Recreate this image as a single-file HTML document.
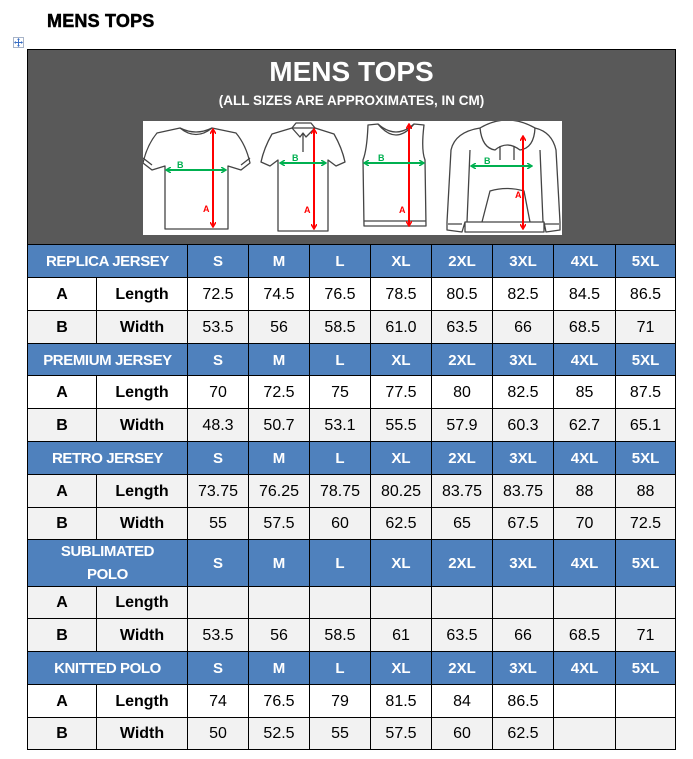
<!DOCTYPE html>
<html><head><meta charset="utf-8">
<style>
body{margin:0;width:693px;height:759px;background:#fff;position:relative;overflow:hidden;font-family:"Liberation Sans",sans-serif;}
.title{position:absolute;left:47px;top:12px;font-size:18px;font-weight:bold;color:#000;line-height:18px;letter-spacing:0.2px;-webkit-text-stroke:0.5px #000;}
.mv{position:absolute;left:13px;top:37px;width:9px;height:9px;border:1px solid #a8b4c8;background:#fff;}
.hdr{position:absolute;left:27px;top:49px;width:649px;height:195px;box-sizing:border-box;background:#595959;border:1px solid #000;border-bottom:none;}
.t1{position:absolute;left:0;width:100%;text-align:center;color:#fff;font-weight:bold;}
.r{position:absolute;left:27px;width:649px;display:flex;box-sizing:border-box;border-top:1px solid #000;}
.r>div{box-sizing:border-box;border-left:1px solid #000;display:flex;align-items:center;justify-content:center;font-size:16px;color:#000;padding-top:1px;width:61px;flex:none;text-align:center;}
.r>div:last-child{border-right:1px solid #000;}
.r>div.x{width:62px;}
.r>div.l{width:160px;}
.r>div.a{width:69px;font-weight:bold;}
.r>div.n{width:91px;font-weight:bold;}
.h{background:#4F81BD;}
.h>div{color:#fff !important;font-weight:bold;font-size:15px !important;}
.h>div.l{letter-spacing:-0.4px;}
.g{background:#F2F2F2;}
.w{background:#fff;}
.last{border-bottom:1px solid #000;}
</style></head>
<body>
<div class="title">MENS TOPS</div>
<div class="mv"><svg width="9" height="9" viewBox="0 0 9 9" style="position:absolute;left:0;top:0"><path d="M4.5 0.5V8.5M0.5 4.5H8.5" stroke="#3a6fc4" stroke-width="1"/><path d="M4.5 0L3 1.8H6Z M4.5 9L3 7.2H6Z M0 4.5L1.8 3V6Z M9 4.5L7.2 3V6Z" fill="#3a6fc4"/></svg></div>

<div class="hdr">
  <div class="t1" style="top:5px;font-size:28px;line-height:34px;">MENS TOPS</div>
  <div class="t1" style="top:43px;font-size:13.5px;line-height:16px;">(ALL SIZES ARE APPROXIMATES, IN CM)</div>
</div>

<svg style="position:absolute;left:143px;top:121px" width="419" height="114" viewBox="143 121 419 114">
<defs>
<marker id="ar" markerWidth="6" markerHeight="6" refX="5" refY="3" orient="auto-start-reverse" markerUnits="userSpaceOnUse"><path d="M0,0 L5,3 L0,6" fill="none" stroke="#ff0000" stroke-width="1.5"/></marker>
<marker id="ag" markerWidth="6" markerHeight="6" refX="5" refY="3" orient="auto-start-reverse" markerUnits="userSpaceOnUse"><path d="M0,0 L5,3 L0,6" fill="none" stroke="#00b050" stroke-width="1.5"/></marker>
</defs>
<rect x="143" y="121" width="419" height="114" fill="#fff"/>
<g fill="none" stroke="#444" stroke-width="1.3" stroke-linejoin="round">
<!-- tshirt -->
<path d="M180,128 Q196,136 212,128 L236,133 Q246,145 250,163 L241,170 L228,166 L228,229 L165,229 L165,166 L152,170 L143,163 Q147,145 157,133 Z"/>
<path d="M180,128 Q196,141 212,128"/>
<path d="M143,158 L152,165 M250,158 L241,165"/>
<!-- polo -->
<path d="M292,128 L272,134 Q264,148 261,162 L270,166 L278,160 L278,231 L328,231 L328,160 L336,166 L345,162 Q342,148 334,134 L315,128 Z"/>
<path d="M292,128 L296,123 L311,123 L315,128 M292,128 L300,137 L303,133 L306,137 L315,128 M303,134 L303,152"/>
<!-- tank -->
<path d="M368,125 L378,124 Q396,146 414,124 L424,125 Q421,150 425,160 L426,226 L364,226 L363,160 Q367,150 368,125 Z"/>
<path d="M378,124 Q396,140 414,124 M364,221 L426,221"/>
<!-- hoodie -->
<path d="M480,128 Q507,112 535,128 Q552,132 556,150 L560,222 L560,230 L546,232 L544,222 L544,232 L465,232 L465,222 L462,232 L447,230 L447,222 L451,150 Q455,132 480,128 Z"/>
<path d="M470,150 L467,222 M540,150 L543,222 M465,222 L544,222 M448,224 L462,224 M545,224 L559,224"/>
<path d="M480,128 Q482,148 495,150 Q507,140 520,150 Q534,148 535,128"/>
<path d="M500,146 L500,160 M514,146 L514,160"/>
<path d="M482,222 L490,191 Q507,186 524,191 L530,222"/>
</g>
<g stroke-width="2">
<line x1="213" y1="129" x2="213" y2="227" stroke="#ff0000" marker-start="url(#ar)" marker-end="url(#ar)"/>
<line x1="166" y1="170" x2="226" y2="170" stroke="#00b050" marker-start="url(#ag)" marker-end="url(#ag)"/>
<line x1="314" y1="129" x2="314" y2="229" stroke="#ff0000" marker-start="url(#ar)" marker-end="url(#ar)"/>
<line x1="280" y1="163" x2="326" y2="163" stroke="#00b050" marker-start="url(#ag)" marker-end="url(#ag)"/>
<line x1="409" y1="124" x2="409" y2="226" stroke="#ff0000" marker-start="url(#ar)" marker-end="url(#ar)"/>
<line x1="364" y1="163" x2="424" y2="163" stroke="#00b050" marker-start="url(#ag)" marker-end="url(#ag)"/>
<line x1="523" y1="136" x2="523" y2="229" stroke="#ff0000" marker-start="url(#ar)" marker-end="url(#ar)"/>
<line x1="471" y1="166" x2="532" y2="166" stroke="#00b050" marker-start="url(#ag)" marker-end="url(#ag)"/>
</g>
<g font-family="Liberation Sans, sans-serif" font-weight="bold" font-size="9">
<text x="203" y="212" fill="#ff0000">A</text><text x="177" y="168" fill="#00b050">B</text>
<text x="304" y="213" fill="#ff0000">A</text><text x="292" y="161" fill="#00b050">B</text>
<text x="399" y="213" fill="#ff0000">A</text><text x="378" y="161" fill="#00b050">B</text>
<text x="515" y="198" fill="#ff0000">A</text><text x="484" y="164" fill="#00b050">B</text>
</g>
</svg>

<!-- REPLICA -->
<div class="r h" style="top:244px;height:33px"><div class="l">REPLICA JERSEY</div><div>S</div><div>M</div><div>L</div><div>XL</div><div>2XL</div><div>3XL</div><div class="x">4XL</div><div>5XL</div></div>
<div class="r w" style="top:277px;height:33px"><div class="a">A</div><div class="n">Length</div><div>72.5</div><div>74.5</div><div>76.5</div><div>78.5</div><div>80.5</div><div>82.5</div><div class="x">84.5</div><div>86.5</div></div>
<div class="r g" style="top:310px;height:33px"><div class="a">B</div><div class="n">Width</div><div>53.5</div><div>56</div><div>58.5</div><div>61.0</div><div>63.5</div><div>66</div><div class="x">68.5</div><div>71</div></div>
<!-- PREMIUM -->
<div class="r h" style="top:343px;height:32px"><div class="l">PREMIUM JERSEY</div><div>S</div><div>M</div><div>L</div><div>XL</div><div>2XL</div><div>3XL</div><div class="x">4XL</div><div>5XL</div></div>
<div class="r w" style="top:375px;height:33px"><div class="a">A</div><div class="n">Length</div><div>70</div><div>72.5</div><div>75</div><div>77.5</div><div>80</div><div>82.5</div><div class="x">85</div><div>87.5</div></div>
<div class="r g" style="top:408px;height:33px"><div class="a">B</div><div class="n">Width</div><div>48.3</div><div>50.7</div><div>53.1</div><div>55.5</div><div>57.9</div><div>60.3</div><div class="x">62.7</div><div>65.1</div></div>
<!-- RETRO -->
<div class="r h" style="top:441px;height:33px"><div class="l">RETRO JERSEY</div><div>S</div><div>M</div><div>L</div><div>XL</div><div>2XL</div><div>3XL</div><div class="x">4XL</div><div>5XL</div></div>
<div class="r g" style="top:474px;height:33px"><div class="a">A</div><div class="n">Length</div><div>73.75</div><div>76.25</div><div>78.75</div><div>80.25</div><div>83.75</div><div>83.75</div><div class="x">88</div><div>88</div></div>
<div class="r g" style="top:507px;height:32px"><div class="a">B</div><div class="n">Width</div><div>55</div><div>57.5</div><div>60</div><div>62.5</div><div>65</div><div>67.5</div><div class="x">70</div><div>72.5</div></div>
<!-- SUBLIMATED -->
<div class="r h" style="top:539px;height:47px"><div class="l" style="line-height:22.5px">SUBLIMATED<br>POLO</div><div>S</div><div>M</div><div>L</div><div>XL</div><div>2XL</div><div>3XL</div><div class="x">4XL</div><div>5XL</div></div>
<div class="r g" style="top:586px;height:32px"><div class="a">A</div><div class="n">Length</div><div></div><div></div><div></div><div></div><div></div><div></div><div class="x"></div><div></div></div>
<div class="r g" style="top:618px;height:33px"><div class="a">B</div><div class="n">Width</div><div>53.5</div><div>56</div><div>58.5</div><div>61</div><div>63.5</div><div>66</div><div class="x">68.5</div><div>71</div></div>
<!-- KNITTED -->
<div class="r h" style="top:651px;height:33px"><div class="l">KNITTED POLO</div><div>S</div><div>M</div><div>L</div><div>XL</div><div>2XL</div><div>3XL</div><div class="x">4XL</div><div>5XL</div></div>
<div class="r w" style="top:684px;height:33px"><div class="a">A</div><div class="n">Length</div><div>74</div><div>76.5</div><div>79</div><div>81.5</div><div>84</div><div>86.5</div><div class="x"></div><div></div></div>
<div class="r g last" style="top:717px;height:33px"><div class="a">B</div><div class="n">Width</div><div>50</div><div>52.5</div><div>55</div><div>57.5</div><div>60</div><div>62.5</div><div class="x"></div><div></div></div>
</body></html>
